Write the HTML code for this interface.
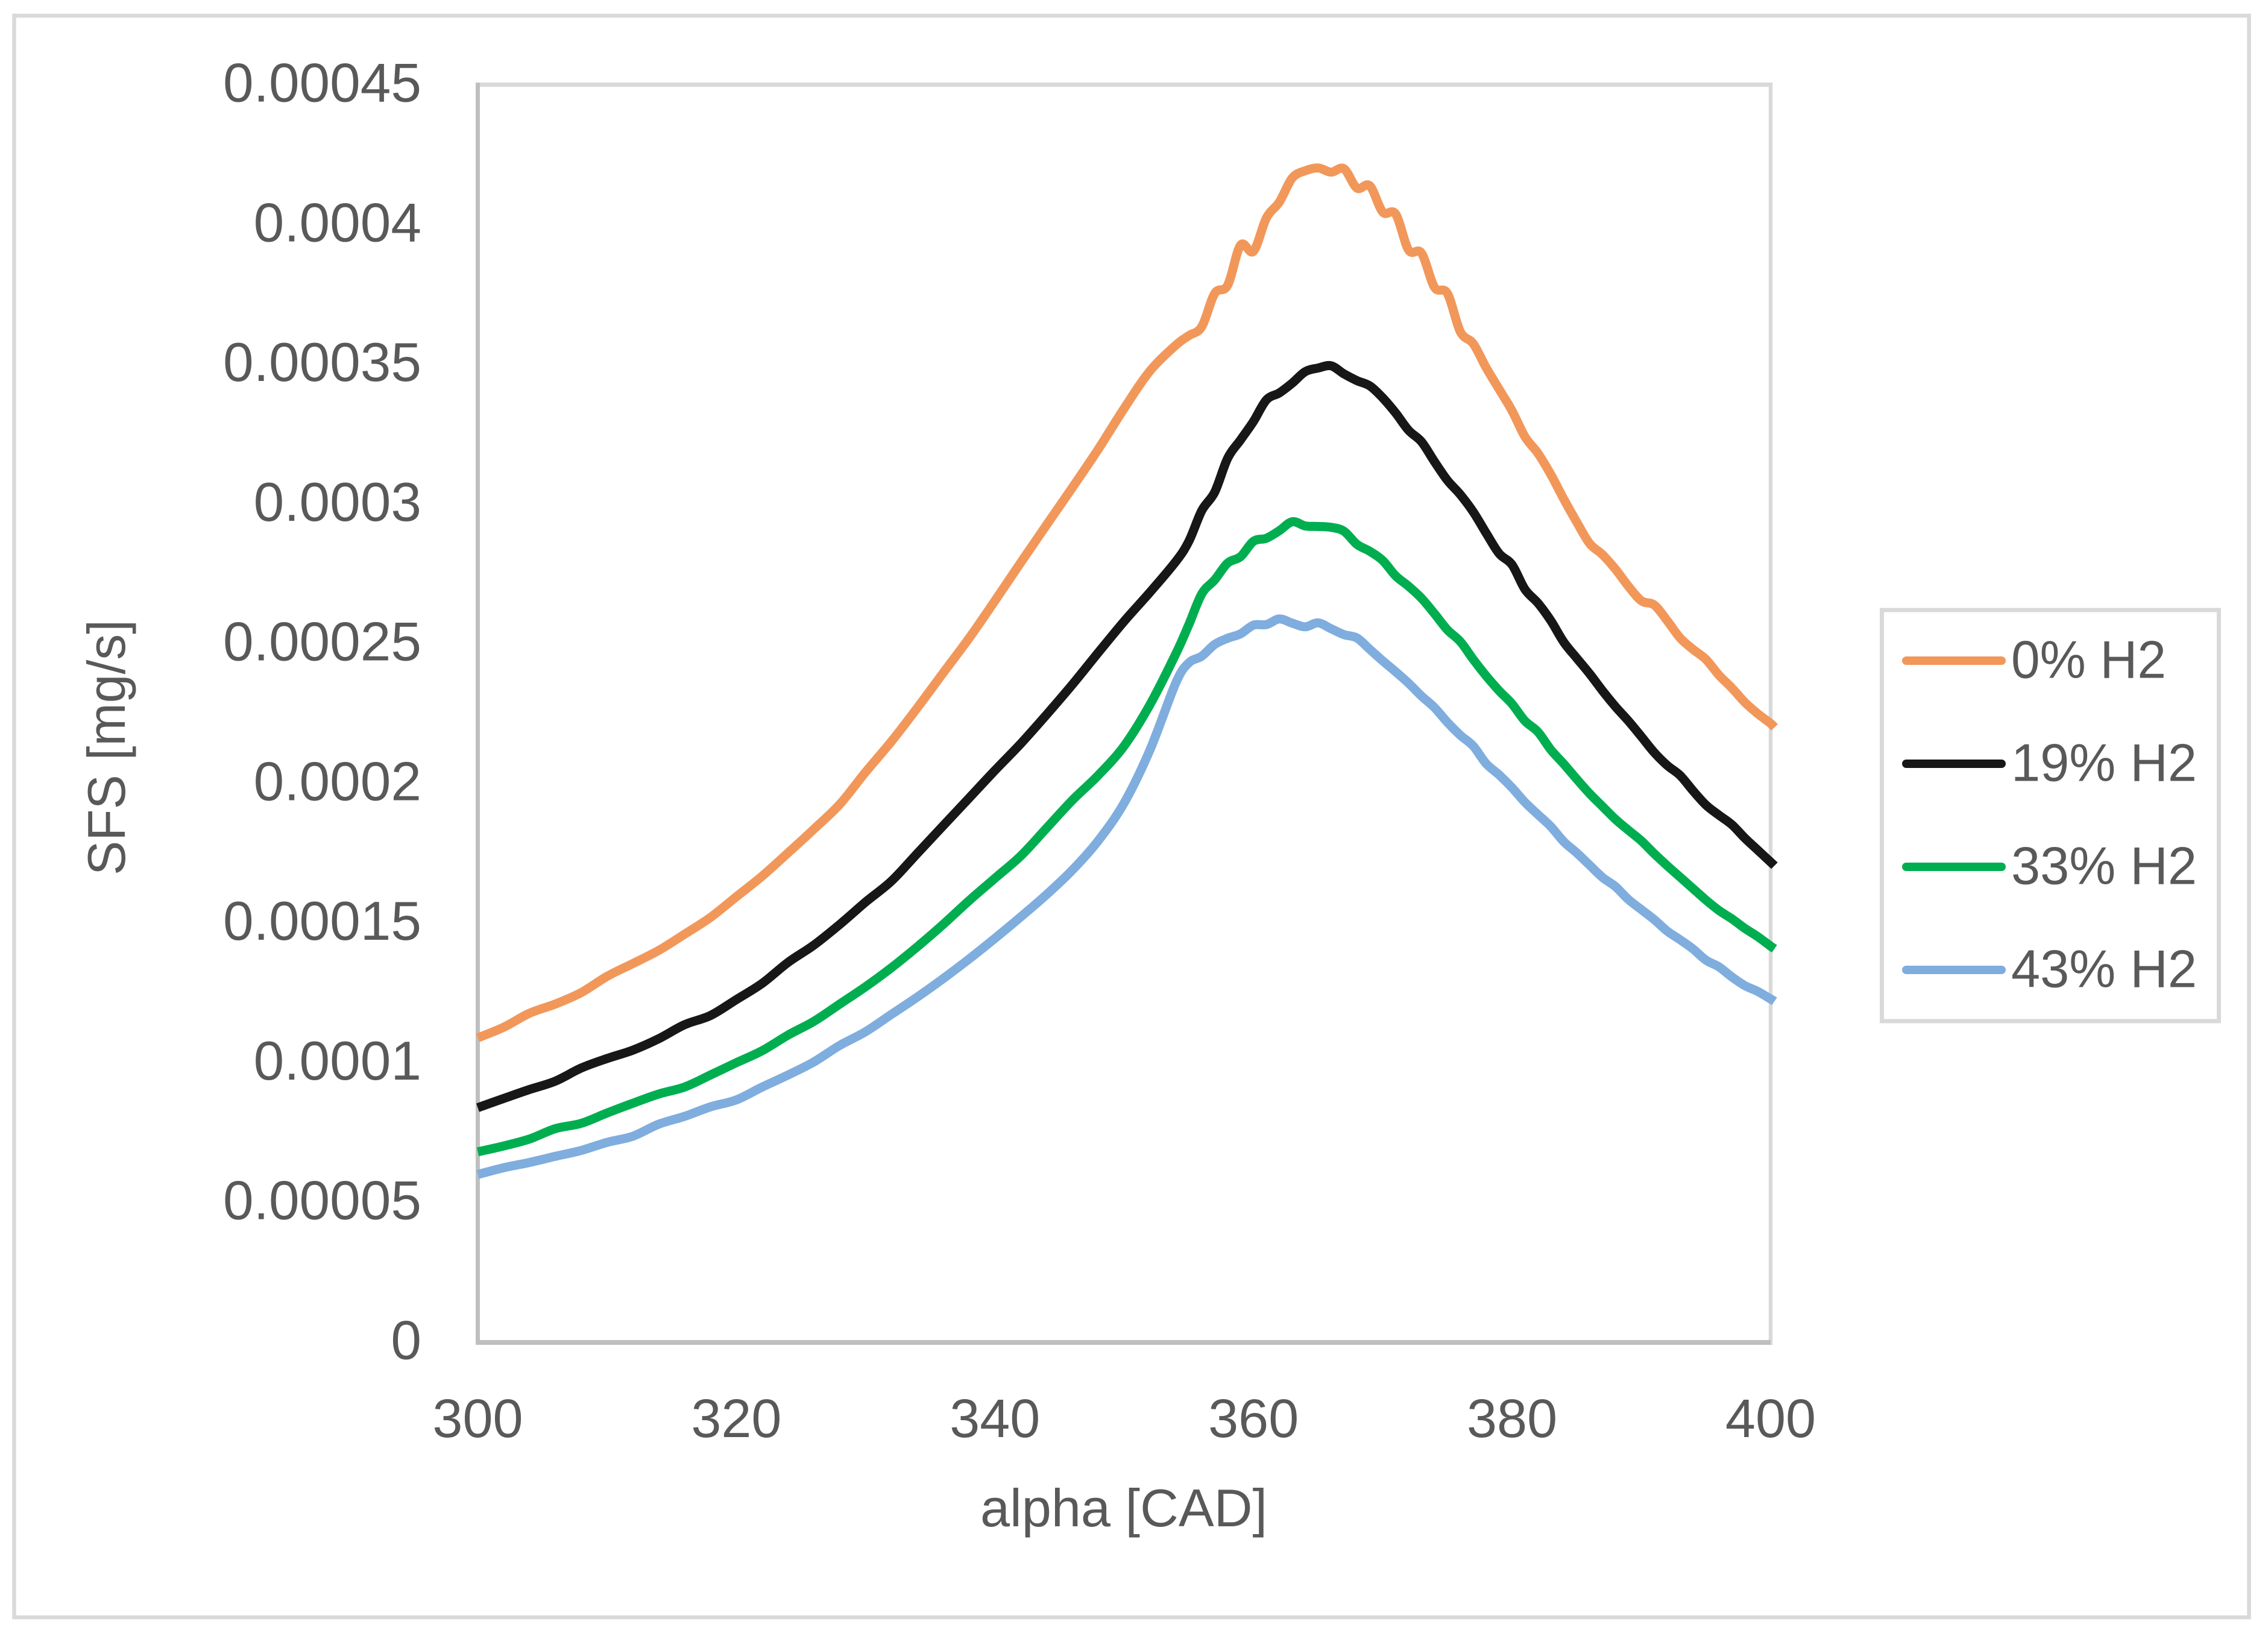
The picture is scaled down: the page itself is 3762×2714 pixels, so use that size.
<!DOCTYPE html>
<html lang="en">
<head>
<meta charset="utf-8">
<title>SFS vs alpha</title>
<style>
  html, body { margin: 0; padding: 0; background: #ffffff; }
  svg { display: block; }
  text { font-family: "Liberation Sans", Arial, sans-serif; fill: #595959; }
</style>
</head>
<body>
<svg id="chart" xmlns="http://www.w3.org/2000/svg" width="3762" height="2714" viewBox="0 0 3762 2714">
  <rect x="0" y="0" width="3762" height="2714" fill="#ffffff"/>
  <rect x="23.5" y="26" width="3707" height="2657" fill="none" stroke="#d9d9d9" stroke-width="6.5"/>
  <line x1="789" y1="140.5" x2="2940" y2="140.5" stroke="#d9d9d9" stroke-width="7"/>
  <line x1="2937" y1="137" x2="2937" y2="2231" stroke="#d9d9d9" stroke-width="6.5"/>
  <line x1="792.5" y1="137" x2="792.5" y2="2231" stroke="#bfbfbf" stroke-width="7"/>
  <line x1="789" y1="2227" x2="2937" y2="2227" stroke="#bfbfbf" stroke-width="8"/>
  <g id="series"></g>
  <g id="y-ticks"></g>
  <g id="x-ticks"></g>
  <text x="1626" y="2532" font-size="88" textLength="476" lengthAdjust="spacingAndGlyphs">alpha [CAD]</text>
  <text transform="translate(207 1452) rotate(-90)" x="0" y="0" font-size="88" textLength="424" lengthAdjust="spacingAndGlyphs">SFS [mg/s]</text>
  <g>
    <rect x="3121.5" y="1012" width="559" height="682" fill="#ffffff" stroke="#d9d9d9" stroke-width="7"/>
    <g id="legend-entries"></g>
  </g>
</svg>
<script>
// x axis sample positions, alpha in CAD
const alphaCoarse = [300,302,304,306,308,310,312,314,316,318,320,322,324,326,328,330,332,334,336,338,340,342,344,346,348,350,352,354];
const alphaFine = [355,356,357,358,359,360,361,362,363,364,365,366,367,368,369,370,371,372,373,374,375,376,377,378,379,380,381,382,383,384,385,386,387,388,389,390,391,392,393,394,395,396,397,398,399,400,400.3];

// series values, SFS in units of 1e-5 mg/s
const h2Pct0 = [10.89,11.27,11.77,12.10,12.51,13.09,13.55,14.02,14.60,15.20,15.94,16.68,17.51,18.36,19.25,20.40,21.50,22.70,23.95,25.19,26.53,27.90,29.25,30.59,31.96,33.42,34.76,35.68,
  36.02,36.34,37.53,37.82,39.26,39.04,40.23,40.80,41.66,41.92,42.02,41.87,41.99,41.30,41.38,40.44,40.37,39.08,38.97,37.75,37.53,36.16,35.73,34.87,34.10,33.33,32.40,31.81,31.05,30.17,29.35,28.58,28.18,27.66,27.05,26.53,26.38,25.82,25.20,24.79,24.43,23.87,23.41,22.90,22.49,22.14,22.00];
const h2Pct19 = [8.39,8.72,9.04,9.34,9.81,10.15,10.45,10.86,11.36,11.69,12.26,12.84,13.59,14.21,14.95,15.75,16.50,17.49,18.48,19.47,20.46,21.42,22.46,23.54,24.68,25.80,26.84,27.94,
  28.66,29.76,30.42,31.63,32.29,32.95,33.72,33.97,34.32,34.73,34.86,34.94,34.65,34.41,34.22,33.79,33.25,32.63,32.22,31.51,30.84,30.33,29.71,28.95,28.22,27.82,26.94,26.45,25.82,25.05,24.48,23.92,23.31,22.74,22.23,21.67,21.10,20.64,20.28,19.73,19.22,18.86,18.52,18.04,17.61,17.18,17.05];
const h2Pct33 = [6.81,7.02,7.27,7.64,7.83,8.20,8.55,8.88,9.13,9.56,10.00,10.43,10.99,11.48,12.10,12.72,13.40,14.15,14.95,15.80,16.60,17.40,18.40,19.40,20.29,21.34,22.82,24.64,
  25.68,26.78,27.28,27.88,28.11,28.66,28.77,29.04,29.36,29.21,29.19,29.16,29.02,28.55,28.30,27.97,27.42,27.05,26.62,26.07,25.49,25.07,24.43,23.84,23.31,22.84,22.23,21.84,21.20,20.69,20.15,19.63,19.17,18.71,18.32,17.94,17.48,17.05,16.64,16.23,15.82,15.45,15.15,14.81,14.51,14.17,14.08];
const h2Pct43 = [6.00,6.24,6.43,6.65,6.86,7.15,7.37,7.80,8.08,8.42,8.67,9.13,9.56,10.03,10.62,11.11,11.73,12.35,13.01,13.71,14.45,15.22,16.02,16.90,17.95,19.30,21.20,23.60,
  24.31,24.55,24.97,25.19,25.35,25.66,25.68,25.88,25.73,25.60,25.74,25.53,25.32,25.20,24.79,24.38,23.99,23.58,23.12,22.71,22.18,21.72,21.33,20.70,20.30,19.84,19.32,18.88,18.45,17.91,17.51,17.07,16.63,16.30,15.84,15.48,15.12,14.71,14.40,14.07,13.67,13.43,13.07,12.76,12.55,12.28,12.20];

// tick labels and legend names
const yTickValues = [0,5,10,15,20,25,30,35,40,45];
const yTickLabels = ["0","0.00005","0.0001","0.00015","0.0002","0.00025","0.0003","0.00035","0.0004","0.00045"];
const xTickValues = [300,320,340,360,380,400];
const xTickLabels = ["300","320","340","360","380","400"];
const seriesNames = ["0% H2","19% H2","33% H2","43% H2"];

const SVG_NS = "http://www.w3.org/2000/svg";
const alpha = alphaCoarse.concat(alphaFine);

function xScale(v) { return 792.5 + (v - 300) * (2937 - 792.5) / 100; }
function yScale(v) { return 2226.5 - v * (2226.5 - 140.5) / 45; }

function smoothPath(xs, ys) {
  const pts = xs.map(function (x, i) { return [xScale(x), yScale(ys[i])]; });
  let d = "M" + pts[0][0].toFixed(1) + " " + pts[0][1].toFixed(1);
  for (let i = 0; i < pts.length - 1; i++) {
    const p0 = pts[Math.max(i - 1, 0)];
    const p1 = pts[i];
    const p2 = pts[i + 1];
    const p3 = pts[Math.min(i + 2, pts.length - 1)];
    const c1x = p1[0] + (p2[0] - p0[0]) / 6;
    const c1y = p1[1] + (p2[1] - p0[1]) / 6;
    const c2x = p2[0] - (p3[0] - p1[0]) / 6;
    const c2y = p2[1] - (p3[1] - p1[1]) / 6;
    d += "C" + c1x.toFixed(1) + " " + c1y.toFixed(1) + " " + c2x.toFixed(1) + " " + c2y.toFixed(1) + " " + p2[0].toFixed(1) + " " + p2[1].toFixed(1);
  }
  return d;
}

function seriesColor(i) { return ["#f2975a", "#171717", "#00ae50", "#7fadde"][i]; }
function seriesValues(i) { return [h2Pct0, h2Pct19, h2Pct33, h2Pct43][i]; }

const seriesGroup = document.getElementById("series");
const legendGroup = document.getElementById("legend-entries");

seriesNames.forEach(function (name, i) {
  const path = document.createElementNS(SVG_NS, "path");
  
  
  path.setAttribute("d", smoothPath(alpha, seriesValues(i)));
  path.setAttribute("fill", "none");
  path.setAttribute("stroke", seriesColor(i));
  path.setAttribute("stroke-width", "15");
  path.setAttribute("stroke-linejoin", "round");
  seriesGroup.appendChild(path);

  const rowY = 1096 + i * 171;
  const key = document.createElementNS(SVG_NS, "line");
  
  
  key.setAttribute("x1", "3162");
  key.setAttribute("x2", "3320");
  key.setAttribute("y1", rowY);
  key.setAttribute("y2", rowY);
  key.setAttribute("stroke", seriesColor(i));
  key.setAttribute("stroke-width", "14");
  key.setAttribute("stroke-linecap", "round");
  legendGroup.appendChild(key);

  const label = document.createElementNS(SVG_NS, "text");
  
  
  label.setAttribute("x", "3336");
  label.setAttribute("y", rowY + 28.5);
  label.setAttribute("font-size", "88");
  label.setAttribute("textLength", i === 0 ? "257" : "308");
  label.setAttribute("lengthAdjust", "spacingAndGlyphs");
  label.textContent = name;
  legendGroup.appendChild(label);
});

const yTicksGroup = document.getElementById("y-ticks");
yTickValues.forEach(function (v, i) {
  const t = document.createElementNS(SVG_NS, "text");
  
  
  t.setAttribute("x", "699");
  t.setAttribute("y", yScale(v) + 28);
  t.setAttribute("font-size", "91");
  t.setAttribute("text-anchor", "end");
  t.textContent = yTickLabels[i];
  yTicksGroup.appendChild(t);
});

const xTicksGroup = document.getElementById("x-ticks");
xTickValues.forEach(function (v, i) {
  const t = document.createElementNS(SVG_NS, "text");
  
  
  t.setAttribute("x", xScale(v));
  t.setAttribute("y", "2384");
  t.setAttribute("font-size", "90");
  t.setAttribute("text-anchor", "middle");
  t.textContent = xTickLabels[i];
  xTicksGroup.appendChild(t);
});
</script>
</body>
</html>
